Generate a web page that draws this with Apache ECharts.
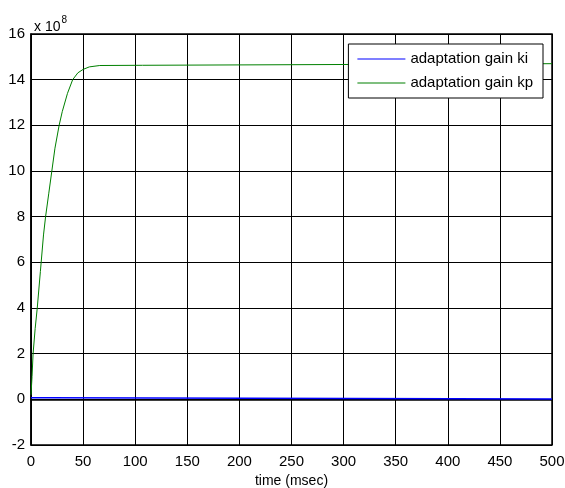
<!DOCTYPE html>
<html>
<head>
<meta charset="utf-8">
<title>adaptation gain</title>
<script src="https://cdn.jsdelivr.net/npm/echarts@6/dist/echarts.min.js"></script>
<style>
  html, body { margin: 0; padding: 0; background: #fff; }
  #main { width: 565px; height: 488px; }
</style>
</head>
<body>
<div id="main"></div>
<script type="text/javascript">
// values in units of 1e8
var kpTime = [0, 1, 2, 4, 6, 9, 12, 14, 17, 20, 23, 27, 30, 35, 40, 45, 50, 56, 66, 107, 108, 500];
var kpGain = [0.2, 1.0, 2.0, 3.1, 4.0, 5.6, 7.2, 8.0, 9.0, 10.0, 11.0, 12.0, 12.6, 13.4, 14.0, 14.3, 14.45, 14.56, 14.62, 14.63, 14.68, 14.7];
var kiTime = [0, 17, 17.5, 500];
var kiGain = [0.07, 0.07, 0.01, 0.01];
var xTicks = [0, 500, 50];
var yTicks = [-2, 16, 2];

function pairs(xs, ys) {
  var out = [];
  for (var i = 0; i < xs.length; i++) out.push([xs[i], ys[i]]);
  return out;
}

var myChart = echarts.init(document.getElementById('main'));
var font = 'Liberation Sans, Arial, sans-serif';

var option = {
  animation: false,
  backgroundColor: '#fff',
  title: {
    text: '{a|x 10}{b|8}',
    left: 29,
    top: 10,
    textStyle: {
      rich: {
        a: { fontFamily: font, fontSize: 14, fontWeight: 'normal', color: '#000', verticalAlign: 'bottom' },
        b: { fontFamily: font, fontSize: 10, fontWeight: 'normal', color: '#000', verticalAlign: 'top', padding: [0, 0, 9, 1] }
      }
    }
  },
  grid: {
    left: 31, right: 13, top: 34, bottom: 43,
    outerBoundsMode: 'none',
    containLabel: false,
    show: true, borderColor: '#000', borderWidth: 1.5, backgroundColor: '#fff'
  },
  legend: {
    orient: 'vertical',
    right: 22,
    top: 44,
    padding: [5, 10, 5, 9],
    itemGap: 4,
    itemWidth: 48,
    itemHeight: 14,
    backgroundColor: '#fff',
    borderColor: '#000',
    borderWidth: 1,
    borderRadius: 0,
    textStyle: { fontFamily: font, fontSize: 15, color: '#000', lineHeight: 20 },
    data: [
      { name: 'adaptation gain ki', icon: 'path://M0,0 L48,0 L48,1 L0,1 Z', itemStyle: { color: '#0000ff' } },
      { name: 'adaptation gain kp', icon: 'path://M0,0 L48,0 L48,1 L0,1 Z', itemStyle: { color: '#008000' } }
    ]
  },
  xAxis: {
    type: 'value',
    min: xTicks[0], max: xTicks[1], interval: xTicks[2],
    name: 'time (msec)',
    nameLocation: 'middle',
    nameGap: 28,
    nameTextStyle: { fontFamily: font, fontSize: 14, color: '#000' },
    axisLine: { show: true, lineStyle: { color: '#000', width: 1.5 } },
    axisTick: { show: false },
    axisLabel: { fontFamily: font, fontSize: 15, color: '#000', margin: 9 },
    splitLine: { show: true, lineStyle: { color: '#000', width: 1 } }
  },
  yAxis: {
    type: 'value',
    min: yTicks[0], max: yTicks[1], interval: yTicks[2],
    axisLine: { show: true, lineStyle: { color: '#000', width: 1.5 } },
    axisTick: { show: false },
    axisLabel: { fontFamily: font, fontSize: 15, color: '#000', margin: 6 },
    splitLine: { show: true, lineStyle: { color: '#000', width: 1 } }
  },
  series: [
    {
      name: 'adaptation gain ki',
      type: 'line',
      showSymbol: false,
      symbol: 'none',
      color: '#0000ff',
      lineStyle: { color: '#0000ff', width: 1.5 },
      data: pairs(kiTime, kiGain),
      z: 3
    },
    {
      name: 'adaptation gain kp',
      type: 'line',
      showSymbol: false,
      symbol: 'none',
      color: '#008000',
      lineStyle: { color: '#008000', width: 1 },
      data: pairs(kpTime, kpGain),
      z: 2
    }
  ]
};

myChart.setOption(option);
</script>
</body>
</html>
